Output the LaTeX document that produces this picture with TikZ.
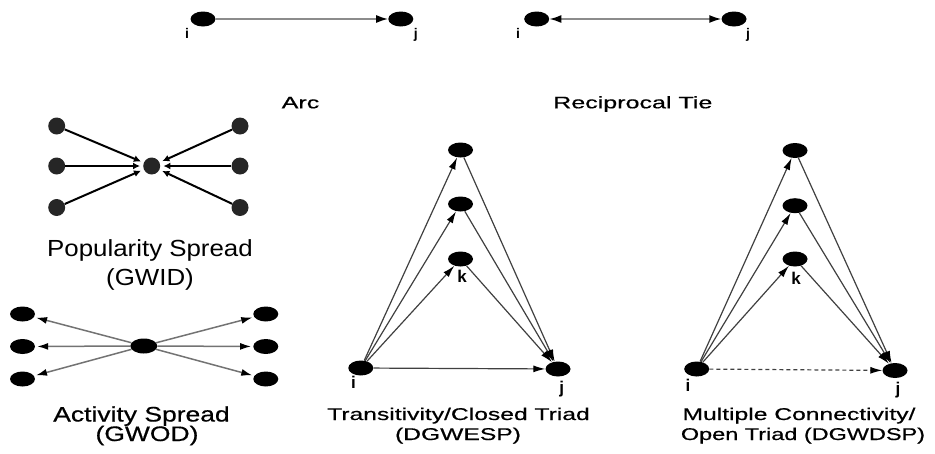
\documentclass[tikz,border=0pt]{standalone}
\usepackage{fontspec}
\setmainfont{Liberation Sans}
\newfontfamily\embfont[FakeBold=0.5]{Liberation Sans}
\usepackage{graphicx}
\usetikzlibrary{arrows.meta,shapes.geometric}
\newcommand{\wtxt}[3]{\scalebox{#1}[1]{\embfont\fontsize{#2}{#2}\selectfont #3}}
\begin{document}
\begin{tikzpicture}[x=1pt,y=-1pt,
  vtx/.style={ellipse, fill=black, minimum width=25pt, minimum height=15pt, inner sep=0pt},
  cdot/.style={circle, fill=black!85, minimum size=17pt, inner sep=0pt},
  lbl/.style={inner sep=0pt, font=\bfseries\fontsize{14}{14}\selectfont},
  tlbl/.style={inner sep=0pt, font=\bfseries\fontsize{17}{17}\selectfont},
  txt/.style={inner sep=0pt, anchor=base},
  garr/.style={draw=black!45, line width=1.6pt, -{Latex[length=12pt,width=8pt,color=black]}},
  tarr/.style={draw=black!75, line width=1.2pt, -{Latex[length=12pt,width=7pt,color=black]}},
  barr/.style={draw=black, line width=2pt, -{Latex[length=7pt,width=7pt]}, shorten >=3pt},
  aarr/.style={draw=black!55, line width=1.5pt, -{Latex[length=11pt,width=7pt,color=black]}, shorten >=2pt}
]
\useasboundingbox (0,0) rectangle (935,453);

% Arc
\node[vtx] (ai) at (203,19) {};
\node[vtx] (aj) at (400.8,19) {};
\node[lbl] (ail) at (187,33) {i};
\node[lbl] (ajl) at (415.7,35) {j};
\draw[garr] (ai) -- (aj);
\node[txt] (arct) at (300.5,108.3) {\wtxt{1.5}{16.7}{Arc}};

% Reciprocal tie
\node[vtx] (ri) at (536.7,19) {};
\node[vtx] (rj) at (734,19) {};
\node[lbl] (ril) at (518,33) {i};
\node[lbl] (rjl) at (748,35) {j};
\draw[garr, {Latex[length=12pt,width=8pt,color=black]}-{Latex[length=12pt,width=8pt,color=black]}] (ri) -- (rj);
\node[txt, anchor=base west] (rect) at (553,108.3) {\wtxt{1.5}{16.7}{Reciprocal Tie}};

% Popularity spread
\node[cdot] (pc) at (151.7,166) {};
\node[cdot] (pl1) at (56.7,126) {};
\node[cdot] (pl2) at (56.7,166) {};
\node[cdot] (pl3) at (56.7,207.5) {};
\node[cdot] (pr1) at (240,126) {};
\node[cdot] (pr2) at (240,166) {};
\node[cdot] (pr3) at (240,207.5) {};
\foreach \n in {pl1,pl2,pl3,pr1,pr2,pr3} \draw[barr] (\n) -- (pc);
\node[txt] (popt1) at (150,256.7) {\scalebox{1.11}[1]{\fontsize{23.3}{23.3}\selectfont Popularity Spread}};
\node[txt] (popt2) at (150,285) {\scalebox{1.11}[1]{\fontsize{23.3}{23.3}\selectfont (GWID)}};

% Activity spread
\node[vtx, minimum width=27pt] (ac) at (143.8,346) {};
\node[vtx] (al1) at (22.5,314) {};
\node[vtx] (al2) at (22.5,346.5) {};
\node[vtx] (al3) at (22.5,379) {};
\node[vtx] (ar1) at (265.8,314) {};
\node[vtx] (ar2) at (265.8,346.5) {};
\node[vtx] (ar3) at (265.8,379) {};
\foreach \n in {al1,al2,al3,ar1,ar2,ar3} \draw[aarr] (ac) -- (\n);
\node[txt] (actt1) at (141.5,421.5) {\wtxt{1.26}{21}{Activity Spread}};
\node[txt] (actt2) at (147,441) {\wtxt{1.26}{21}{(GWOD)}};

% Transitivity / closed triad
\node[vtx] (tt) at (460.5,150) {};
\node[vtx] (tm) at (460.5,204) {};
\node[vtx] (tk) at (460.5,259) {};
\node[vtx] (ti) at (360.8,368) {};
\node[vtx] (tj) at (558,369) {};
\node[tlbl] (tkl) at (462,276.7) {k};
\node[tlbl] (til) at (353.5,382.5) {i};
\node[tlbl] (tjl) at (561.7,389) {j};
\foreach \n in {tt,tm,tk} {\draw[tarr] (ti) -- (\n); \draw[tarr] (\n) -- (tj);}
\draw[tarr] (ti) -- (tj);
\node[txt] (trt1) at (458.5,420) {\wtxt{1.45}{17}{Transitivity/Closed Triad}};
\node[txt] (trt2) at (458,440) {\wtxt{1.45}{17}{(DGWESP)}};

% Multiple connectivity / open triad
\node[vtx] (ot) at (795,150.5) {};
\node[vtx] (om) at (795,205.7) {};
\node[vtx] (ok) at (795,259) {};
\node[vtx] (oi) at (696.7,369) {};
\node[vtx] (oj) at (895,370.5) {};
\node[tlbl] (okl) at (796,278) {k};
\node[tlbl] (oil) at (688,385) {i};
\node[tlbl] (ojl) at (898,390) {j};
\foreach \n in {ot,om,ok} {\draw[tarr] (oi) -- (\n); \draw[tarr] (\n) -- (oj);}
\draw[tarr, dashed, dash pattern=on 4pt off 3pt] (oi) -- (oj);
\node[txt] (opt1) at (799,420) {\wtxt{1.45}{17}{Multiple Connectivity/}};
\node[txt] (opt2) at (803,440) {\wtxt{1.38}{17}{Open Triad (DGWDSP)}};
\end{tikzpicture}
\end{document}
